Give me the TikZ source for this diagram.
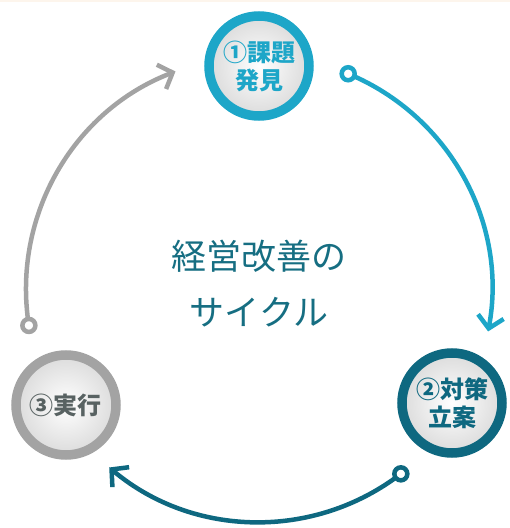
\documentclass[tikz,border=0pt]{standalone}
\usepackage{fontspec}
\newfontfamily\jp{Noto Sans CJK JP}
\usetikzlibrary{arrows.meta,calc}
\definecolor{cblue}{RGB}{29,166,200}
\definecolor{cteal}{RGB}{14,104,128}
\definecolor{cgray}{RGB}{163,163,163}
\definecolor{cgraytext}{RGB}{88,98,98}
\definecolor{ctitle}{RGB}{22,110,130}
\definecolor{ccream}{RGB}{253,245,236}
\tikzset{
  stage/.style={circle, line width=9.5pt, minimum size=100pt, inner sep=0pt,
    inner color=white, outer color=black!14, align=center,
    font=\jp\bfseries\fontsize{24}{28}\selectfont},
  cyc/.style={line width=4.5pt},
  tipv/.style={-{Straight Barb[length=12pt,width=26pt,line cap=butt]}},
  startdot/.style={circle, draw, fill=white, line width=4.5pt, minimum size=13pt, inner sep=0pt}
}
\begin{document}
\begin{tikzpicture}[x=1pt,y=1pt]
\useasboundingbox (0,0) rectangle (510,528);
\fill[ccream] (0,525.5) rectangle (510,528);
\coordinate (C) at (259,239);
% stages
\node[stage, draw=cblue, text=cblue] (n1) at (259,462) {①課題\\発見};
\node[stage, draw=cteal, text=cteal] (n2) at (452,125) {②対策\\立案};
\node[stage, draw=cgray, text=cgraytext] (n3) at (66,123) {③実行};
% title
\node[font=\jp\fontsize{35}{56}\selectfont, text=ctitle, align=center] (t) at (259,244) {経営改善の\\サイクル};
% arcs
\coordinate (a1) at ($(C)+(67.5:233)$);
\coordinate (a2) at ($(C)+(-52.5:233)$);
\coordinate (a3) at ($(C)+(189:233)$);
\draw[cyc, tipv, cblue] (a1) arc[start angle=67.5, end angle=-10.5, radius=233];
\draw[cyc, tipv, cteal] (a2) arc[start angle=-52.5, end angle=-130, radius=233];
\draw[cyc, tipv, cgray] (a3) arc[start angle=189, end angle=111, radius=233];
\node[startdot, draw=cblue] (d1) at (a1) {};
\node[startdot, draw=cteal] (d2) at (a2) {};
\node[startdot, draw=cgray] (d3) at (a3) {};
\end{tikzpicture}
\end{document}
